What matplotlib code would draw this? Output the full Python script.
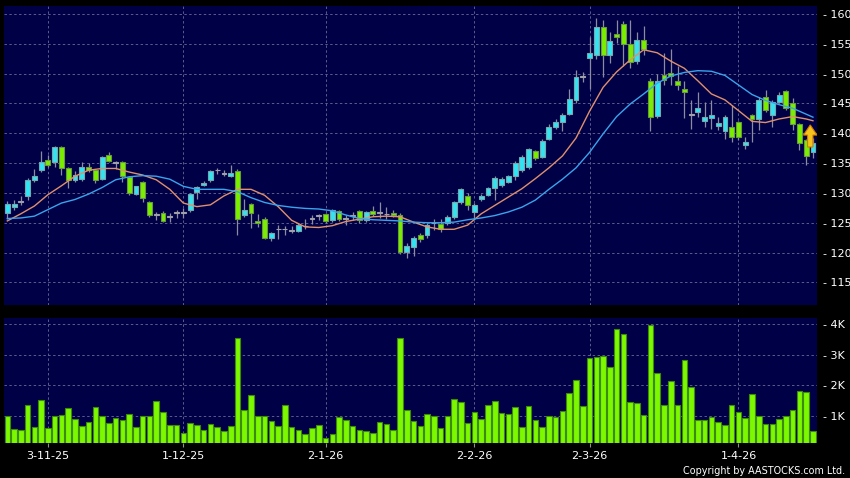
import matplotlib.pyplot as plt
from matplotlib.patches import FancyArrow

# x axis date labels (trading-day index of each label)
tick_pos = [6, 26, 47, 69, 86, 108]
tick_labels = ['3-11-25', '1-12-25', '2-1-26', '2-2-26', '2-3-26', '1-4-26']

# daily candles
opens = [126.7, 127.6, 128.5, 129.4, 132.1, 133.8, 135.6, 135.2, 137.7, 134.1,
         132.2, 132.3, 134.4, 133.8, 132.4, 136.4, 135.0, 135.1, 132.7, 129.9,
         131.9, 128.5, 126.3, 126.7, 126.0, 126.6, 126.6, 127.1, 130.1, 131.4,
         132.1, 133.8, 133.2, 132.8, 133.7, 126.3, 128.1, 125.3, 125.7, 122.5,
         123.9, 123.9, 123.6, 123.6, 124.4, 125.7, 126.1, 126.4, 125.4, 127.0,
         125.7, 126.2, 127.0, 125.4, 127.0, 126.6, 126.4, 126.7, 126.3, 120.1,
         121.0, 122.9, 123.0, 124.9, 124.8, 124.9, 125.9, 128.4, 129.5, 126.8,
         128.9, 129.6, 130.8, 131.3, 131.9, 132.8, 133.8, 134.3, 137.0, 136.1,
         139.1, 141.0, 141.9, 143.3, 145.6, 149.5, 152.7, 153.1, 157.9, 153.1,
         156.6, 158.3, 154.9, 152.2, 155.6, 148.8, 142.9, 149.8, 150.1, 148.8,
         147.5, 143.1, 143.6, 142.1, 142.5, 141.2, 140.4, 141.1, 141.9, 138.1,
         143.0, 142.4, 146.0, 143.1, 145.3, 147.1, 145.1, 141.5, 138.9, 136.9]
highs = [128.7, 128.8, 129.4, 132.5, 134.0, 137.1, 136.3, 137.8, 137.8, 134.3,
         133.6, 135.1, 135.0, 134.0, 136.2, 136.8, 135.4, 135.3, 132.9, 131.2,
         132.0, 128.7, 126.8, 126.9, 126.7, 127.2, 127.4, 130.0, 131.2, 132.0,
         133.9, 134.1, 133.8, 134.7, 134.0, 128.9, 128.3, 126.5, 125.9, 123.4,
         124.6, 124.5, 124.5, 124.9, 125.6, 126.3, 126.5, 126.6, 127.3, 127.2,
         126.3, 126.8, 127.2, 127.0, 127.8, 128.5, 127.6, 127.1, 126.7, 121.6,
         122.8, 123.2, 125.0, 125.6, 125.6, 126.3, 128.6, 130.9, 130.0, 128.3,
         129.9, 131.0, 132.9, 132.6, 133.0, 135.4, 136.4, 137.6, 137.2, 139.0,
         141.5, 142.4, 143.4, 147.5, 150.6, 150.3, 156.2, 159.3, 159.0, 157.0,
         159.0, 158.9, 159.0, 157.0, 158.0, 149.2, 149.9, 153.4, 154.2, 151.2,
         148.8, 145.6, 146.9, 145.3, 145.6, 142.7, 143.0, 144.7, 142.0, 139.4,
         143.2, 146.0, 147.3, 145.6, 147.0, 147.3, 145.9, 141.8, 139.1, 139.2]
lows = [125.7, 127.2, 128.0, 128.8, 131.8, 133.5, 134.3, 134.4, 133.0, 130.8,
        131.8, 132.0, 133.5, 131.6, 132.2, 135.2, 134.0, 131.9, 129.6, 129.7,
        128.4, 126.0, 125.5, 125.1, 125.2, 125.8, 125.8, 126.8, 128.9, 131.2,
        131.9, 133.2, 132.8, 132.6, 122.9, 126.0, 124.1, 124.3, 122.2, 121.9,
        122.2, 123.0, 123.2, 123.4, 124.0, 124.8, 125.4, 125.0, 125.2, 125.3,
        124.6, 125.5, 125.0, 125.2, 126.1, 125.8, 125.7, 126.0, 119.8, 119.0,
        119.5, 121.8, 122.5, 123.8, 123.5, 124.6, 125.6, 128.2, 127.2, 125.7,
        128.6, 129.4, 128.8, 131.0, 131.6, 132.1, 133.5, 134.0, 135.5, 135.9,
        138.8, 140.7, 140.3, 143.0, 145.0, 148.6, 147.5, 152.5, 149.4, 151.8,
        155.1, 151.2, 150.9, 151.7, 153.1, 140.3, 142.6, 148.1, 148.1, 147.3,
        142.5, 140.8, 142.8, 141.1, 140.8, 140.6, 139.1, 138.6, 138.8, 137.3,
        138.6, 140.5, 143.5, 141.0, 145.0, 143.9, 140.5, 137.2, 134.7, 135.8]
closes = [128.1, 128.2, 128.5, 132.1, 132.8, 135.2, 134.7, 137.7, 134.1, 132.2,
          133.0, 134.4, 133.8, 132.2, 136.0, 135.4, 135.0, 132.8, 130.0, 131.1,
          129.1, 126.3, 126.3, 125.3, 126.0, 126.6, 126.6, 129.9, 131.0, 131.7,
          133.7, 133.8, 133.2, 133.4, 125.6, 127.1, 126.7, 124.9, 122.4, 123.2,
          123.9, 123.9, 123.6, 124.7, 124.4, 125.7, 126.1, 125.3, 127.1, 125.6,
          125.7, 126.2, 125.5, 126.8, 126.4, 126.6, 126.4, 126.3, 120.1, 121.1,
          122.4, 122.2, 124.6, 124.9, 124.0, 125.9, 128.4, 130.7, 128.0, 128.0,
          129.5, 130.8, 132.5, 132.4, 132.8, 135.0, 136.1, 137.3, 135.8, 138.7,
          141.0, 141.9, 143.1, 145.7, 149.4, 149.5, 153.5, 157.9, 153.1, 155.5,
          156.2, 155.0, 152.0, 155.6, 154.2, 142.7, 148.8, 148.9, 149.6, 148.1,
          147.0, 143.1, 144.2, 142.8, 143.0, 141.7, 142.7, 139.3, 139.3, 138.5,
          142.4, 145.6, 143.9, 145.3, 146.5, 144.2, 141.5, 138.3, 136.2, 138.3]

# volume in thousands
volume_k = [1.0, 0.56, 0.54, 1.34, 0.61, 1.51, 0.58, 0.99, 1.02, 1.26,
            0.90, 0.66, 0.79, 1.28, 0.97, 0.77, 0.91, 0.86, 1.05, 0.64,
            0.99, 1.0, 1.48, 1.12, 0.69, 0.69, 0.43, 0.76, 0.68, 0.53,
            0.72, 0.62, 0.50, 0.65, 3.53, 1.17, 1.68, 0.97, 1.0, 0.81,
            0.67, 1.34, 0.63, 0.52, 0.38, 0.60, 0.69, 0.28, 0.40, 0.96,
            0.87, 0.65, 0.54, 0.51, 0.43, 0.78, 0.72, 0.52, 3.56, 1.17,
            0.83, 0.66, 1.06, 0.98, 0.60, 1.0, 1.54, 1.43, 0.76, 1.11,
            0.89, 1.36, 1.49, 1.09, 1.06, 1.27, 0.62, 1.31, 0.87, 0.61,
            1.0, 0.96, 1.14, 1.75, 2.18, 1.31, 2.88, 2.93, 2.94, 2.58,
            3.83, 3.66, 1.43, 1.41, 1.02, 3.96, 2.39, 1.35, 2.14, 1.36,
            2.82, 1.94, 0.84, 0.84, 0.94, 0.80, 0.69, 1.34, 1.13, 0.91,
            1.72, 1.0, 0.73, 0.71, 0.90, 1.0, 1.17, 1.81, 1.78, 0.50]

# moving averages (every second day)
ma_pos = list(range(0, 119, 2)) + [119]
ma_short = [125.3, 126.5, 127.8, 129.7, 131.2, 132.8, 133.8, 134.1, 134.1, 133.5,
            133.0, 132.2, 130.6, 128.3, 127.7, 128.0, 129.5, 130.6, 130.6, 129.6,
            127.7, 125.4, 124.3, 124.2, 124.5, 125.2, 125.6, 126.0, 126.1, 126.0,
            125.1, 124.3, 123.9, 123.9, 124.6, 126.5, 127.9, 129.3, 130.7, 132.4,
            134.2, 136.2, 139.2, 143.7, 147.7, 150.3, 152.3, 154.0, 153.5, 152.1,
            150.9, 148.8, 146.6, 145.6, 143.8, 142.0, 141.8, 142.4, 142.8, 142.4,
            142.1]
ma_long = [125.7, 125.8, 126.1, 127.2, 128.3, 128.9, 129.8, 130.9, 132.2, 132.7,
           132.9, 132.8, 132.3, 131.1, 130.6, 130.6, 130.6, 130.2, 129.2, 128.4,
           127.9, 127.6, 127.4, 127.3, 127.0, 126.3, 125.7, 125.5, 125.4, 125.3,
           125.1, 125.0, 125.0, 125.1, 125.5, 125.8, 126.2, 126.8, 127.6, 128.8,
           130.6, 132.3, 134.2, 136.8, 139.9, 142.8, 144.9, 146.6, 148.4, 149.6,
           150.2, 150.5, 150.4, 149.7, 148.1, 146.5, 145.5, 144.8, 144.2, 143.2,
           142.7]

navy = '#000046'
grid_kw = dict(color='#5c5c8c', linestyle=(0, (2.5, 2.5)), linewidth=0.7)

fig = plt.figure(figsize=(8.5, 4.78), dpi=100, facecolor='black')
ax = fig.add_axes([0.0047, 0.3619, 0.9565, 0.6255], facecolor=navy)
axv = fig.add_axes([0.0047, 0.0732, 0.9565, 0.2615], facecolor=navy, sharex=ax)

n = len(closes)
idx = list(range(n))

# candles: cyan = up, green = down, grey = unchanged
body_c, edge_c, bottoms, heights = [], [], [], []
for o, c in zip(opens, closes):
    if c > o:
        body_c.append('#30e4f2')
        edge_c.append('#7aa6ae')
    elif c < o:
        body_c.append('#7aee00')
        edge_c.append('#6a9a40')
    else:
        body_c.append('#a0a0aa')
        edge_c.append('#a0a0aa')
    bottoms.append(min(o, c))
    heights.append(max(abs(c - o), 0.12))

ax.vlines(idx, lows, highs, color='#8c8ca0', linewidth=0.9, zorder=2)
ax.bar(idx, heights, bottom=bottoms, width=0.72, color=body_c,
       edgecolor=edge_c, linewidth=0.8, zorder=3)

ax.plot(ma_pos, ma_short, color='#e0906c', linewidth=1.0, zorder=4)
ax.plot(ma_pos, ma_long, color='#3aa4ec', linewidth=1.0, zorder=4)

ax.add_patch(FancyArrow(118.6, 137.7, 0, 3.7, width=0.8, head_width=2.0,
                        head_length=1.7, length_includes_head=True,
                        fc='#f6c21c', ec='#d07a00', lw=0.8, zorder=6))

ax.set_xlim(-0.49, 119.6)
ax.set_ylim(111.2, 161.34)
ax.set_yticks(range(115, 161, 5))
ax.set_yticklabels(['- %d' % v for v in range(115, 161, 5)])
ax.yaxis.tick_right()
ax.set_xticks(tick_pos)
ax.tick_params(axis='x', length=0, labelbottom=False)
ax.tick_params(axis='y', length=0, pad=4, labelcolor='white', labelsize=8)
ax.grid(True, **grid_kw)
ax.set_axisbelow(True)

# volume
axv.bar(idx, volume_k, width=0.82, color='#7cf800', edgecolor='#3c8a10',
        linewidth=0.8, zorder=3)
axv.set_ylim(0.1, 4.2)
axv.set_yticks([1, 2, 3, 4])
axv.set_yticklabels(['- 1K', '- 2K', '- 3K', '- 4K'])
axv.yaxis.tick_right()
axv.set_xticks(tick_pos)
axv.set_xticklabels(tick_labels)
axv.tick_params(axis='y', length=0, pad=4, labelcolor='white', labelsize=8)
axv.tick_params(axis='x', length=3, width=0.8, color='#909090', pad=3,
                labelcolor='white', labelsize=8)
axv.grid(True, **grid_kw)
axv.set_axisbelow(True)

for a in (ax, axv):
    for s in a.spines.values():
        s.set_visible(False)

fig.text(0.994, 0.0146, 'Copyright by AASTOCKS.com Ltd.', ha='right',
         va='center', color='white', fontsize=6.9)

fig.savefig('out.png', dpi=100, facecolor='black')
